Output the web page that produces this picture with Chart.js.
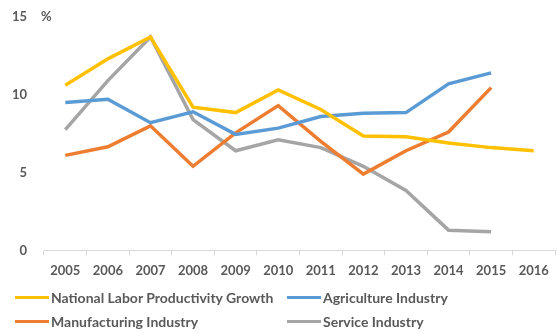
<!doctype html>
<html>
<head>
<meta charset="UTF-8">
<script src="https://cdn.jsdelivr.net/npm/chart.js"></script>
<style>
  body { margin: 0; background: #fff; font-family: Lato, "Open Sans", sans-serif; }
  #wrap { width: 558px; height: 333px; position: relative; }
  #chart { position: absolute; left: 0; top: 0; }
  #legend { position: absolute; left: 15px; top: 289px; width: 540px; }
  .item { position: absolute; display: flex; align-items: center; font-size: 14px; font-weight: bold; color: #595959; white-space: nowrap; }
  .swatch { width: 34px; height: 3px; margin-right: 2px; }
</style>
</head>
<body>
<div id="wrap">
  <canvas id="chart" width="558" height="293" style="width:558px;height:293px"></canvas>
  <div id="legend"></div>
</div>
<script>
  const years = ['2005', '2006', '2007', '2008', '2009', '2010', '2011', '2012', '2013', '2014', '2015', '2016'];
  const national = [10.6, 12.3, 13.7, 9.2, 8.85, 10.3, 9.05, 7.35, 7.3, 6.9, 6.6, 6.4];
  const agriculture = [9.5, 9.7, 8.2, 8.9, 7.45, 7.85, 8.6, 8.8, 8.85, 10.7, 11.4, null];
  const manufacturing = [6.1, 6.65, 8.0, 5.4, 7.55, 9.3, 7.0, 4.9, 6.4, 7.6, 10.45, null];
  const service = [7.75, 10.9, 13.7, 8.4, 6.4, 7.1, 6.6, 5.4, 3.85, 1.3, 1.2, null];

  const names = ['National Labor Productivity Growth', 'Agriculture Industry', 'Manufacturing Industry', 'Service Industry'];
  const colors = ['#FFC000', '#5B9BD5', '#ED7D31', '#A5A5A5'];
  const series = [national, agriculture, manufacturing, service];

  const tickFont = { family: 'Lato, "Open Sans", sans-serif', size: 13, weight: 'bold' };

  // "%" label next to the top tick
  const unitLabel = {
    id: 'unitLabel',
    afterDraw(chart) {
      const ctx = chart.ctx;
      const y = chart.scales.y.getPixelForValue(15);
      ctx.save();
      ctx.font = 'bold 13px Lato, "Open Sans", sans-serif';
      ctx.fillStyle = '#595959';
      ctx.textBaseline = 'middle';
      ctx.fillText('%', 41, y);
      ctx.restore();
    }
  };

  new Chart(document.getElementById('chart'), {
    type: 'line',
    data: {
      labels: years,
      datasets: series.map((d, i) => ({
        label: names[i],
        data: d,
        borderColor: colors[i],
        backgroundColor: colors[i],
        borderWidth: 3.5,
        pointRadius: 0,
        tension: 0
      }))
    },
    options: {
      responsive: false,
      animation: false,
      layout: { padding: { top: 4, right: 3, left: 0, bottom: 6 } },
      plugins: { legend: { display: false }, tooltip: { enabled: false } },
      scales: {
        x: {
          offset: true,
          border: { color: '#D9D9D9', width: 1 },
          grid: { display: true, drawOnChartArea: false, offset: true, color: '#D9D9D9', tickLength: 5 },
          ticks: { color: '#595959', font: tickFont, padding: 8, maxRotation: 0 }
        },
        y: {
          min: 0,
          max: 15,
          border: { display: false },
          grid: { display: false },
          ticks: { stepSize: 5, color: '#595959', font: tickFont, padding: 9 },
          afterFit(scale) { scale.width = 44; }
        }
      }
    },
    plugins: [unitLabel]
  });

  // legend laid out as a two-column grid
  const legend = document.getElementById('legend');
  const slots = [[0, 0], [272, 0], [0, 24], [272, 24]];
  names.forEach((n, i) => {
    const el = document.createElement('div');
    el.className = 'item';
    el.style.left = slots[i][0] + 'px';
    el.style.top = slots[i][1] + 'px';
    el.innerHTML = '<span class="swatch" style="background:' + colors[i] + '"></span>' + n;
    legend.appendChild(el);
  });
</script>
</body>
</html>
